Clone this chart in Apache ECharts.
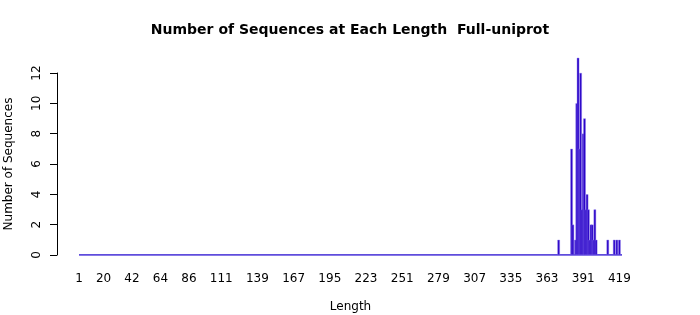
<!DOCTYPE html>
<html>
<head>
<meta charset="utf-8">
<script src="https://cdn.jsdelivr.net/npm/echarts@6/dist/echarts.min.js"></script>
<style>html,body{margin:0;padding:0;background:#fff}#c{width:700px;height:315px}</style>
</head>
<body>
<div id="c"></div>
<script>
const lengths = [372, 382, 383, 385, 386, 387, 388, 389, 390, 391, 392, 393, 394, 395, 396, 397, 398, 399, 400, 401, 410, 415, 417, 419];
const counts  = [1,   7,   2,   1,   10,  13,  7,   12,  3,   8,   9,   3,   4,   3,   1,   2,   2,   1,   3,   1,   1,   1,   1,   1];
const xTicks = [1, 20, 42, 64, 86, 111, 139, 167, 195, 223, 251, 279, 307, 335, 363, 391, 419];
const xRange = [1, 421];
const yTicks = [0, 2, 4, 6, 8, 10, 12];

const chart = echarts.init(document.getElementById('c'));
const font = 'DejaVu Sans';
chart.setOption({
  animation: false,
  title: {
    text: 'Number of Sequences at Each Length  Full-uniprot',
    left: 'center', top: 18,
    textStyle: { fontFamily: font, fontSize: 14, fontWeight: 'bold', color: '#000' }
  },
  grid: { left: 79, right: 78, top: 73, bottom: 60, outerBoundsMode: 'none', containLabel: false },
  xAxis: {
    type: 'value', min: xRange[0], max: xRange[1],
    name: 'Length', nameLocation: 'middle', nameGap: 46,
    nameTextStyle: { fontFamily: font, fontSize: 12, color: '#000' },
    axisLine: { show: false }, axisTick: { show: false }, splitLine: { show: false },
    axisLabel: { customValues: xTicks, fontFamily: font, fontSize: 12, color: '#000', margin: 18 }
  },
  yAxis: {
    type: 'value', min: yTicks[0], max: yTicks[yTicks.length - 1], interval: 2,
    offset: 22,
    name: 'Number of Sequences', nameLocation: 'middle', nameGap: 42,
    nameTextStyle: { fontFamily: font, fontSize: 12, color: '#000' },
    axisLine: { show: true, lineStyle: { color: '#000', width: 1 } },
    axisTick: { show: true, length: 7, lineStyle: { color: '#000' } },
    splitLine: { show: false },
    axisLabel: { rotate: 90, fontFamily: font, fontSize: 12, color: '#000', margin: 14 }
  },
  series: [
    {
      type: 'line', data: [[xRange[0], 0], [xRange[1], 0]],
      symbol: 'none', lineStyle: { color: '#2a10d0', width: 1.5 }, silent: true, z: 1
    },
    {
      type: 'bar', data: lengths.map((l, i) => [l, counts[i]]),
      barWidth: 2.4, clip: false,
      itemStyle: { color: '#2c05c8', borderColor: '#8a78ee', borderWidth: 0.4 },
      z: 2
    }
  ]
});
</script>
</body>
</html>
